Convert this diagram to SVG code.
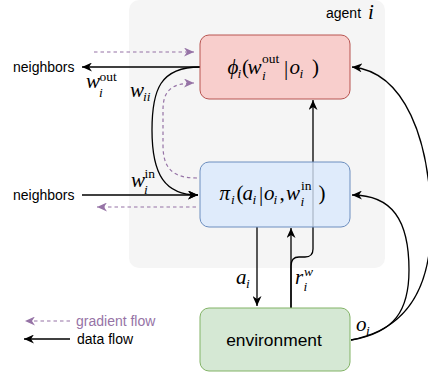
<svg xmlns="http://www.w3.org/2000/svg" width="428" height="373" viewBox="0 0 428 373">
  <style>
    .lbl { font-family: "Liberation Sans", Arial, sans-serif; font-size: 14px; fill: #000; }
    .grad-lbl { fill: #9673a6; }
    .math { font-family: "Liberation Serif", "DejaVu Serif", serif; font-style: italic; font-size: 21px; fill: #000; }
    .s { font-size: 13.5px; }
    .up { font-style: normal; }
    .data { fill: none; stroke: #000; stroke-width: 1.3; }
    .grad { fill: none; stroke: #9673a6; stroke-width: 1.2; stroke-dasharray: 3.5 3; }
  </style>
  <defs>
    <marker id="arrow-black" markerUnits="userSpaceOnUse" markerWidth="11" markerHeight="9" refX="10" refY="4.5" orient="auto">
      <path d="M0,0 L10,4.5 L0,9 L3,4.5 z" fill="#000"/>
    </marker>
    <marker id="arrow-purple" markerUnits="userSpaceOnUse" markerWidth="11" markerHeight="9" refX="10" refY="4.5" orient="auto">
      <path d="M0,0 L10,4.5 L0,9 L3,4.5 z" fill="#9673a6"/>
    </marker>
  </defs>

  <!-- agent container -->
  <g id="agent">
    <rect x="129" y="0" width="256" height="268" rx="10" fill="#f5f5f5"/>
    <text class="lbl" x="326" y="18">agent</text>
    <text class="math" x="368" y="19">i</text>
  </g>

  <!-- connectors -->
  <g id="connectors">
    <!-- phi -> neighbors -->
    <line class="data" x1="200" y1="67" x2="82" y2="67" marker-end="url(#arrow-black)"/>
    <!-- gradient into phi from neighbors -->
    <line class="grad" x1="94" y1="52" x2="194" y2="52" marker-end="url(#arrow-purple)"/>
    <!-- w_ii : phi -> pi -->
    <path class="data" d="M200,67 C160,67 152,90 152,130 C152,175 165,195 198,195" marker-end="url(#arrow-black)"/>
    <!-- gradient pi -> phi -->
    <path class="grad" d="M197,178 C172,178 163,168 163,145 L163,110 C163,92 170,83 194,83" marker-end="url(#arrow-purple)"/>
    <!-- neighbors -> pi -->
    <line class="data" x1="82" y1="195" x2="198" y2="195" marker-end="url(#arrow-black)"/>
    <!-- gradient pi -> neighbors -->
    <line class="grad" x1="196" y1="207" x2="97" y2="207" marker-end="url(#arrow-purple)"/>
    <!-- a_i : pi -> environment -->
    <line class="data" x1="257" y1="227" x2="257" y2="306" marker-end="url(#arrow-black)"/>
    <!-- r_i^w : environment -> pi -->
    <line class="data" x1="291" y1="308" x2="291" y2="228" marker-end="url(#arrow-black)"/>
    <!-- r_i^w : environment -> phi -->
    <path class="data" d="M291,308 L291,266 Q291,257 299,257 L305,257 Q313,257 313,249 L313,100" marker-end="url(#arrow-black)"/>
    <!-- o_i : environment -> phi -->
    <path class="data" d="M351,340 C405,330 432,290 431,220 C430,140 405,72 352,67" marker-end="url(#arrow-black)"/>
    <!-- o_i : environment -> pi -->
    <path class="data" d="M351,340 C395,333 409,310 409,270 C409,220 392,195 352,195" marker-end="url(#arrow-black)"/>
    <!-- legend arrows -->
    <line class="grad" x1="70" y1="321" x2="25" y2="321" marker-end="url(#arrow-purple)"/>
    <line class="data" x1="70" y1="339" x2="24" y2="339" marker-end="url(#arrow-black)"/>
  </g>

  <!-- phi node -->
  <g id="phi">
    <rect x="200" y="35" width="150" height="64" rx="9" fill="#f8cecc" stroke="#b85450"/>
    <text class="math">
      <tspan x="227.5" y="74">ϕ</tspan>
      <tspan class="s" x="237.5" y="78">i</tspan>
      <tspan class="up" x="242" y="74">(</tspan>
      <tspan x="247.5" y="74">w</tspan>
      <tspan class="s" x="262" y="79.5">i</tspan>
      <tspan class="up s" x="262" y="63">out</tspan>
      <tspan class="up" x="284" y="75">|</tspan>
      <tspan x="289.5" y="74">o</tspan>
      <tspan class="s" x="299.5" y="78">i</tspan>
      <tspan class="up" x="312" y="74">)</tspan>
    </text>
  </g>

  <!-- pi node -->
  <g id="pi">
    <rect x="200" y="162" width="150" height="65" rx="9" fill="#dae8fc" fill-opacity="0.8" stroke="#6c8ebf"/>
    <text class="math">
      <tspan x="219.5" y="200">π</tspan>
      <tspan class="s" x="231" y="204">i</tspan>
      <tspan class="up" x="236.5" y="200">(</tspan>
      <tspan x="242.5" y="200">a</tspan>
      <tspan class="s" x="252.5" y="204">i</tspan>
      <tspan class="up" x="259" y="201">|</tspan>
      <tspan x="264" y="200">o</tspan>
      <tspan class="s" x="273.5" y="204">i</tspan>
      <tspan class="up" x="279.5" y="200">,</tspan>
      <tspan x="286" y="200">w</tspan>
      <tspan class="s" x="300.5" y="205.5">i</tspan>
      <tspan class="up s" x="301" y="189.5">in</tspan>
      <tspan class="up" x="318.5" y="200">)</tspan>
    </text>
  </g>

  <!-- environment node -->
  <g id="environment">
    <rect x="200" y="308" width="150" height="63" rx="9" fill="#d5e8d4" stroke="#82b366"/>
    <text class="lbl" x="274" y="346" text-anchor="middle" style="font-size:17.4px">environment</text>
  </g>

  <!-- neighbor labels -->
  <g id="neighbors-out">
    <text class="lbl" x="13" y="72">neighbors</text>
  </g>
  <g id="neighbors-in">
    <text class="lbl" x="13" y="200">neighbors</text>
  </g>

  <!-- edge labels -->
  <g id="edge-labels">
    <text class="math" x="86" y="88">w<tspan class="up s" x="99.5" y="80.5">out</tspan><tspan class="s" x="99" y="96.5">i</tspan></text>
    <text class="math" x="130" y="97">w<tspan class="s" x="143" y="101">ii</tspan></text>
    <text class="math" x="131" y="187">w<tspan class="up s" x="144.5" y="178">in</tspan><tspan class="s" x="144" y="193.5">i</tspan></text>
    <text class="math" x="236" y="284">a<tspan class="s" x="246" y="288">i</tspan></text>
    <text class="math" x="295" y="284">r<tspan class="s" x="304" y="275.5">w</tspan><tspan class="s" x="303.5" y="291">i</tspan></text>
    <text class="math" x="356" y="331">o<tspan class="s" x="366" y="335">i</tspan></text>
  </g>

  <!-- legend -->
  <g id="legend">
    <text class="lbl grad-lbl" x="76" y="326">gradient flow</text>
    <text class="lbl" x="77" y="344">data flow</text>
  </g>
</svg>
